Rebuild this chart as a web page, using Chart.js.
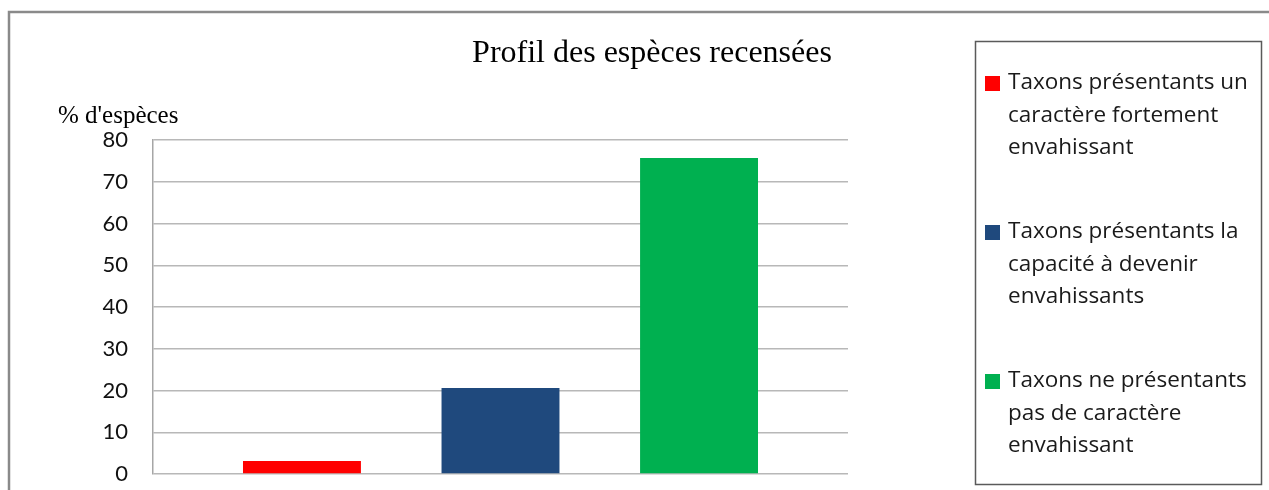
<!DOCTYPE html>
<html>
<head>
<meta charset="utf-8">
<script src="https://cdn.jsdelivr.net/npm/chart.js@4"></script>
<style>
html,body{margin:0;padding:0;background:#fff;overflow:hidden;}
#wrap{position:relative;width:1269px;height:490px;}
</style>
</head>
<body>
<div id="wrap"><canvas id="c" width="1269" height="490"></canvas></div>
<script>
// ---- data ----
const categories = [''];
const seriesNames = [
  ['Taxons présentants un', 'caractère fortement', 'envahissant'],
  ['Taxons présentants la', 'capacité à devenir', 'envahissants'],
  ['Taxons ne présentants', 'pas de caractère', 'envahissant']
];
const seriesValues = [3.1, 20.6, 75.7];
const seriesColors = ['#FF0000', '#1F497D', '#00B050'];
const yTicks = [0, 10, 20, 30, 40, 50, 60, 70, 80];
const titleText = 'Profil des espèces recensées';
const yAxisTitle = "% d'espèces";

const decor = {
  id: 'decor',
  beforeDraw(chart) {
    const ctx = chart.ctx;
    ctx.save();
    ctx.fillStyle = '#fff';
    ctx.fillRect(0, 0, chart.width, chart.height);
    ctx.strokeStyle = '#8a8a8a';
    ctx.lineWidth = 2.5;
    ctx.strokeRect(9, 12, 1400, 700);
    ctx.restore();
  },
  afterDraw(chart) {
    const ctx = chart.ctx;
    ctx.save();
    ctx.fillStyle = '#000';
    ctx.font = '32px "Liberation Serif", "Times New Roman", serif';
    ctx.textAlign = 'center';
    ctx.textBaseline = 'alphabetic';
    ctx.fillText(titleText, 652, 62);
    ctx.font = '25px "Liberation Serif", "Times New Roman", serif';
    ctx.textAlign = 'left';
    ctx.fillText(yAxisTitle, 58, 123);
    ctx.strokeStyle = '#5a5a5a';
    ctx.lineWidth = 1.5;
    ctx.strokeRect(975.5, 41.5, 286, 443);
    ctx.font = '22.5px "Open Sans", Lato, sans-serif';
    ctx.textBaseline = 'middle';
    chart.data.datasets.forEach((ds, i) => {
      const y0 = 83 + i * 149;
      ctx.fillStyle = ds.backgroundColor;
      ctx.fillRect(985, y0 - 7, 15, 15);
      ctx.fillStyle = '#1a1a1a';
      seriesNames[i].forEach((line, j) => {
        ctx.fillText(line, 1008, y0 + j * 32.5);
      });
    });
    ctx.restore();
  }
};

new Chart(document.getElementById('c'), {
  type: 'bar',
  data: {
    labels: categories,
    datasets: seriesValues.map((v, i) => ({
      label: seriesNames[i].join(' '),
      data: [v],
      backgroundColor: seriesColors[i],
      borderWidth: 0,
      categoryPercentage: 0.857,
      barPercentage: 0.594
    }))
  },
  options: {
    responsive: false,
    animation: false,
    devicePixelRatio: 1,
    layout: { padding: { left: 0, right: 421, top: 140, bottom: 16 } },
    plugins: { legend: { display: false }, title: { display: false }, tooltip: { enabled: false } },
    scales: {
      x: { display: false },
      y: {
        min: 0, max: 80,
        afterFit(s) { s.width = 153; s.paddingTop = 0; s.paddingBottom = 0; },
        afterBuildTicks(s) { s.ticks = yTicks.map(v => ({ value: v })); },
        border: { display: true, color: '#a6a6a6', width: 1.5 },
        grid: { color: '#b8b8b8', lineWidth: 1.5, drawTicks: false },
        ticks: {
          padding: 25,
          color: '#111',
          font: { family: 'Lato, "Open Sans", sans-serif', size: 22 }
        }
      }
    }
  },
  plugins: [decor]
});
</script>
</body>
</html>
